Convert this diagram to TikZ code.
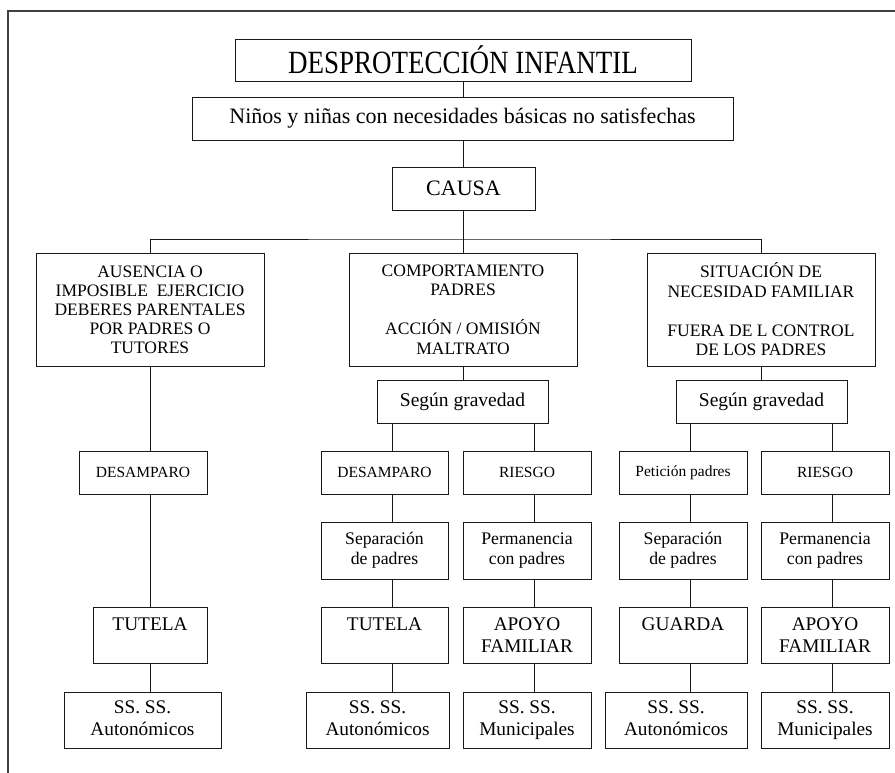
\documentclass[tikz,border=0pt]{standalone}
\usepackage{fontspec}
\setmainfont{Liberation Serif}
\usepackage{graphicx}
\newcommand\fsz[2]{\fontsize{#1pt}{#2pt}\selectfont}
\newcommand\bx[7]{\node[box,minimum width={#3-#2},minimum height={#5-#4},font={#6}] (#1) at ({(#2+#3)/2},{(#4+#5)/2}) {#7};}
\tikzset{
  box/.style={draw=black!90, line width=0.9pt, inner sep=0pt, align=center, fill=white},
  conn/.style={draw=black!90, line width=0.9pt},
  frameline/.style={draw=black!75, line width=1.6pt}
}
\begin{document}
\begin{tikzpicture}[x=1pt,y=-1pt]
\useasboundingbox (0,0) rectangle (895,773);
\draw[frameline] (8,773) -- (8,11) -- (895,11);
% column guide coordinates
\coordinate (xL) at (150,0);
\coordinate (xA) at (392,0);
\coordinate (xB) at (534,0);
\coordinate (xC) at (690,0);
\coordinate (xD) at (832,0);
\coordinate (barM) at (463,239);
% top
\bx{title}{235}{691}{39}{81}{\fsz{27}{27}}{\scalebox{1}[1.2]{DESPROTECCIÓN INFANTIL}}
\bx{need}{192}{733}{97}{140}{\fsz{22}{24}}{Niños y niñas con necesidades básicas no satisfechas}
\bx{causa}{392}{535}{167}{210}{\fsz{22}{24}}{CAUSA}
% level 1
\bx{ausencia}{36}{264}{253}{366}{\fsz{17.5}{19}}{AUSENCIA O\\IMPOSIBLE\ \ EJERCICIO\\DEBERES PARENTALES\\POR PADRES O\\TUTORES}
\bx{comport}{349}{577}{253}{366}{\fsz{17.5}{19.5}}{COMPORTAMIENTO\\PADRES\\[19.5pt]ACCIÓN / OMISIÓN\\MALTRATO}
\bx{situacion}{647}{875}{253}{366}{\fsz{17.5}{19.5}}{SITUACIÓN DE\\NECESIDAD FAMILIAR\\[19.5pt]FUERA DE L CONTROL\\DE LOS PADRES}
% level 2
\bx{segunM}{377}{548}{380}{423}{\fsz{19.5}{21}}{Según gravedad}
\bx{segunR}{676}{847}{380}{423}{\fsz{19.5}{21}}{Según gravedad}
% row 3
\bx{desL}{79}{207}{451}{494}{\fsz{15.5}{18}}{DESAMPARO}
\bx{desM}{321}{448}{451}{494}{\fsz{15.5}{18}}{DESAMPARO}
\bx{riesgoM}{463}{591}{451}{494}{\fsz{15.5}{18}}{RIESGO}
\bx{peticion}{619}{747}{451}{494}{\fsz{15.5}{18}}{Petición padres}
\bx{riesgoR}{761}{889}{451}{494}{\fsz{15.5}{18}}{RIESGO}
% row 4
\bx{sepM}{321}{448}{522}{579}{\fsz{17.7}{20}}{Separación\\de padres}
\bx{permM}{463}{591}{522}{579}{\fsz{17.7}{20}}{Permanencia\\con padres}
\bx{sepR}{619}{747}{522}{579}{\fsz{17.7}{20}}{Separación\\de padres}
\bx{permR}{761}{889}{522}{579}{\fsz{17.7}{20}}{Permanencia\\con padres}
% row 5
\bx{tutL}{93}{207}{607}{663}{\fsz{19.3}{22.7}}{TUTELA\\\mbox{}}
\bx{tutM}{321}{448}{607}{663}{\fsz{19.3}{22.7}}{TUTELA\\\mbox{}}
\bx{apoyoM}{463}{591}{607}{663}{\fsz{19.3}{22.7}}{APOYO\\FAMILIAR}
\bx{guarda}{619}{747}{607}{663}{\fsz{19.3}{22.7}}{GUARDA\\\mbox{}}
\bx{apoyoR}{761}{889}{607}{663}{\fsz{19.3}{22.7}}{APOYO\\FAMILIAR}
% row 6
\bx{ssL}{64}{221}{692}{748}{\fsz{19.3}{22}}{SS. SS.\\Autonómicos\vphantom{p}}
\bx{ssM}{306}{449}{692}{748}{\fsz{19.3}{22}}{SS. SS.\\Autonómicos\vphantom{p}}
\bx{ssMm}{463}{591}{692}{748}{\fsz{19.3}{22}}{SS. SS.\\Municipales}
\bx{ssR}{605}{747}{692}{748}{\fsz{19.3}{22}}{SS. SS.\\Autonómicos\vphantom{p}}
\bx{ssRm}{761}{889}{692}{748}{\fsz{19.3}{22}}{SS. SS.\\Municipales}
% connectors: spine
\draw[conn] (title.south -| barM) -- (need.north -| barM);
\draw[conn] (need.south -| barM) -- (causa.north -| barM);
\draw[conn] (causa.south -| barM) -- (comport.north -| barM);
\draw[conn] (ausencia.north) |- (barM) -| (situacion.north);
% left column
\draw[conn] (ausencia.south) -- (desL.north -| xL);
\draw[conn] (desL.south -| xL) -- (tutL.north -| xL);
\draw[conn] (tutL.south -| xL) -- (ssL.north -| xL);
% middle column
\draw[conn] (comport.south -| barM) -- (segunM.north -| barM);
\draw[conn] (segunM.south -| xA) -- (desM.north -| xA);
\draw[conn] (desM.south -| xA) -- (sepM.north -| xA);
\draw[conn] (sepM.south -| xA) -- (tutM.north -| xA);
\draw[conn] (tutM.south -| xA) -- (ssM.north -| xA);
\draw[conn] (segunM.south -| xB) -- (riesgoM.north -| xB);
\draw[conn] (riesgoM.south -| xB) -- (permM.north -| xB);
\draw[conn] (permM.south -| xB) -- (apoyoM.north -| xB);
\draw[conn] (apoyoM.south -| xB) -- (ssMm.north -| xB);
% right column
\draw[conn] (situacion.south) -- (segunR.north -| situacion.south);
\draw[conn] (segunR.south -| xC) -- (peticion.north -| xC);
\draw[conn] (peticion.south -| xC) -- (sepR.north -| xC);
\draw[conn] (sepR.south -| xC) -- (guarda.north -| xC);
\draw[conn] (guarda.south -| xC) -- (ssR.north -| xC);
\draw[conn] (segunR.south -| xD) -- (riesgoR.north -| xD);
\draw[conn] (riesgoR.south -| xD) -- (permR.north -| xD);
\draw[conn] (permR.south -| xD) -- (apoyoR.north -| xD);
\draw[conn] (apoyoR.south -| xD) -- (ssRm.north -| xD);
\end{tikzpicture}
\end{document}
